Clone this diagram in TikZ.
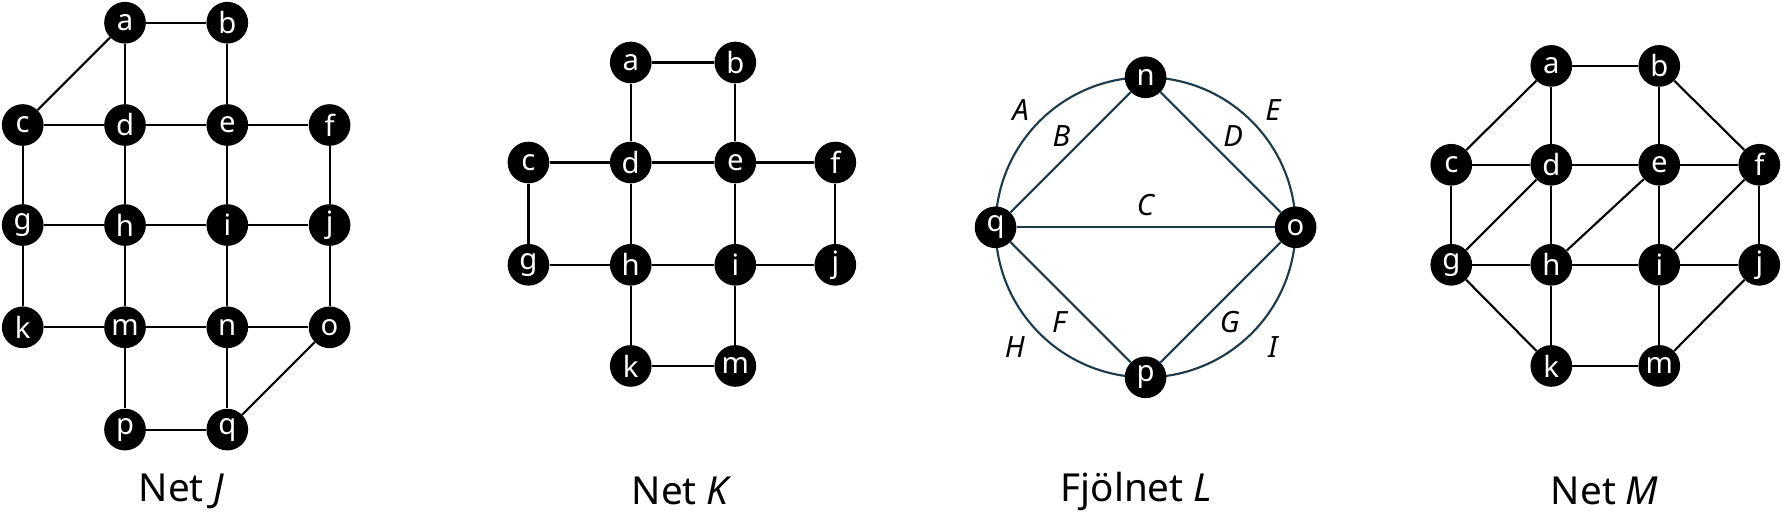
\documentclass[tikz,border=0pt]{standalone}
\usepackage{fontspec}
\setmainfont{Noto Sans}
\begin{document}
\begin{tikzpicture}[x=0.03cm,y=-0.03cm,
		vtx/.style={circle,fill=black,text=white,inner sep=0pt,minimum size=1.1cm,font=\fontsize{22}{22}\selectfont},
		edge/.style={line width=1.6pt},
		lbl/.style={font=\fontsize{22}{22}\selectfont\itshape},
		title/.style={font=\fontsize{29}{29}\selectfont}
		]
		\useasboundingbox (0,0) rectangle (1568,455);
		% Net J
		\foreach \n/\x/\y in {a/110/20,b/200/20,c/20/110,d/110/110,e/200/110,f/290/110,
			g/20/198,h/110/198,i/200/198,j/290/198,k/20/288,m/110/288,n/200/288,o/290/288,
			p/110/378,q/200/378}
			\node[vtx](J\n) at (\x,\y){\n};
		\foreach \s/\t in {a/b,a/c,a/d,b/e,c/d,d/e,e/f,c/g,d/h,e/i,f/j,g/h,h/i,i/j,
			g/k,h/m,i/n,j/o,k/m,m/n,n/o,m/p,n/q,p/q,o/q}
			\draw[edge] (J\s) -- (J\t);
		\node[title](capJ) at (160,432){Net \textit{J}};
		% Net K
		\foreach \n/\x/\y in {a/555/55,b/647/55,c/465/143,d/555/143,e/647/143,f/735/143,
			g/465/233,h/555/233,i/647/233,j/735/233,k/555/322,m/647/322}
			\node[vtx](K\n) at (\x,\y){\n};
		\foreach \s/\t in {a/b,a/d,b/e,c/d,d/e,e/f,c/g,d/h,e/i,f/j,g/h,h/i,i/j,h/k,i/m,k/m}
			\draw[edge] (K\s) -- (K\t);
		\node[title](capK) at (600,432){Net \textit{K}};
		% Fjolnet L
		\definecolor{lteal}{HTML}{1D3B4A}
		\coordinate (Lc) at (1008,200);
		\draw[edge,color=lteal] (Lc) circle[radius=3.96cm];
		\foreach \n/\x/\y in {n/1008/68,o/1140/200,p/1008/332,q/876/200}
			\node[vtx](L\n) at (\x,\y){\n};
		\foreach \s/\t in {n/q,n/o,q/o,q/p,o/p}
			\draw[edge,color=lteal] (L\s) -- (L\t);
		\foreach \l/\x/\y in {A/898/97,B/934/120,E/1120/97,D/1085/120,C/1008/180,
			F/932/283,G/1082/283,H/893/305,I/1120/305}
			\node[lbl](l\l) at (\x,\y){\l};
		\node[title](capL) at (1000,432){Fjölnet \textit{L}};
		% Net M
		\foreach \n/\x/\y in {a/1365/58,b/1460/58,c/1277/145,d/1365/145,e/1460/145,f/1548/145,
			g/1277/233,h/1365/233,i/1460/233,j/1548/233,k/1365/322,m/1460/322}
			\node[vtx](M\n) at (\x,\y){\n};
		\foreach \s/\t in {a/b,a/c,a/d,b/e,b/f,c/d,d/e,e/f,c/g,d/g,d/h,e/h,e/i,f/i,f/j,
			g/h,h/i,i/j,g/k,h/k,i/m,j/m,k/m}
			\draw[edge] (M\s) -- (M\t);
		\node[title](capM) at (1412,432){Net \textit{M}};
\end{tikzpicture}
\end{document}
